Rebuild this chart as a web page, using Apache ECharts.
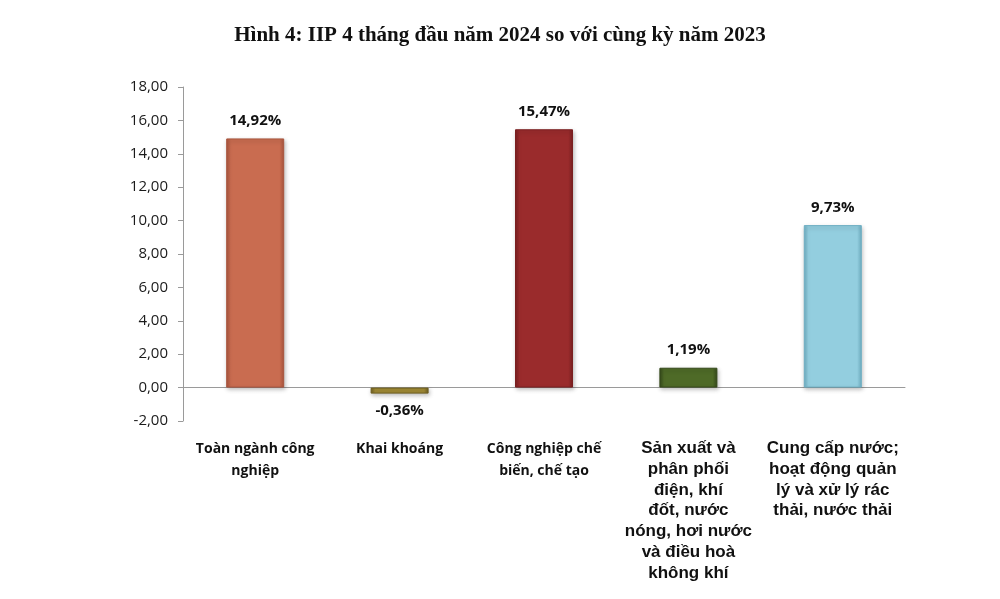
<!DOCTYPE html>
<html>
<head>
<meta charset="utf-8">
<script src="https://cdn.jsdelivr.net/npm/echarts@6/dist/echarts.min.js"></script>
<style>html,body{margin:0;padding:0;background:#fff}#c{width:1000px;height:599px}</style>
</head>
<body>
<div id="c"></div>
<script>
const categories = [
  "Toàn ngành công\nnghiệp",
  "Khai khoáng",
  "Công nghiệp chế\nbiến, chế tạo",
  "Sản xuất và\nphân phối\nđiện, khí\nđốt, nước\nnóng, hơi nước\nvà điều hoà\nkhông khí",
  "Cung cấp nước;\nhoạt động quản\nlý và xử lý rác\nthải, nước thải"
];
const values = [14.92, -0.36, 15.47, 1.19, 9.73];
const barColors = ["#C96C50", "#A08A35", "#9A2B2C", "#4E6A27", "#93CEDF"];
const borderColors = ["#A9553E", "#6E5E20", "#7A1F20", "#34491A", "#6FAFC3"];
const yTicks = { min: -2, max: 18, interval: 2 };
const title = "Hình 4: IIP 4 tháng đầu năm 2024 so với cùng kỳ năm 2023";

const fmt = v => v.toFixed(2).replace('.', ',');
const chart = echarts.init(document.getElementById('c'));
chart.setOption({
  backgroundColor: '#fff',
  title: {
    text: title, left: 'center', top: 20,
    textStyle: { fontFamily: 'Liberation Serif', fontWeight: 'bold', fontSize: 21, color: '#111' }
  },
  grid: { left: 183, right: 95, top: 87, bottom: 178, containLabel: false, outerBoundsMode: 'none' },
  xAxis: {
    type: 'category', data: categories,
    axisLine: { onZero: true, lineStyle: { color: '#9a9a9a', width: 1 } },
    axisTick: { show: false },
    axisLabel: {
      interval: 0, margin: 17, lineHeight: 22,
      fontFamily: 'Open Sans', fontWeight: 'bold', fontSize: 14, color: '#111',
      formatter: (v, i) => i >= 3 ? '{b|' + v.split('\n').join('}\n{b|') + '}' : v,
      rich: { b: { fontFamily: 'Liberation Sans', fontWeight: 'bold', fontSize: 17, lineHeight: 20.8, color: '#111' } }
    }
  },
  yAxis: {
    type: 'value', min: yTicks.min, max: yTicks.max, interval: yTicks.interval,
    axisLine: { show: true, lineStyle: { color: '#9a9a9a' } },
    axisTick: { show: true, inside: false, length: 5, lineStyle: { color: '#9a9a9a' } },
    splitLine: { show: false },
    axisLabel: { formatter: fmt, margin: 15, fontFamily: 'Open Sans', fontSize: 15, color: '#1a1a1a' }
  },
  series: [{
    type: 'bar', barWidth: 58,
    data: values.map((v, i) => ({
      value: v,
      itemStyle: {
        color: {
          type: 'linear', x: 0, y: 0, x2: 1, y2: 0,
          colorStops: [
            { offset: 0, color: borderColors[i] },
            { offset: 0.08, color: barColors[i] },
            { offset: 0.92, color: barColors[i] },
            { offset: 1, color: borderColors[i] }
          ]
        },
        borderColor: borderColors[i], borderWidth: 1,
        shadowColor: 'rgba(0,0,0,0.25)', shadowBlur: 4, shadowOffsetX: 1, shadowOffsetY: 2
      },
      label: { position: v < 0 ? 'bottom' : 'top' }
    })),
    label: {
      show: true, distance: 10,
      formatter: p => fmt(p.value) + '%',
      fontFamily: 'Open Sans', fontWeight: 'bold', fontSize: 15, color: '#111'
    }
  }]
});
</script>
</body>
</html>
